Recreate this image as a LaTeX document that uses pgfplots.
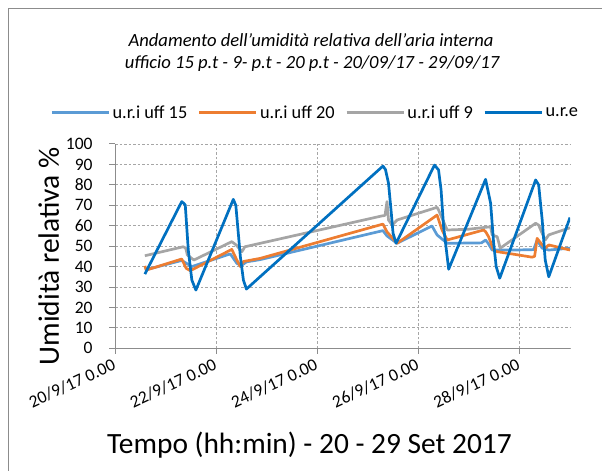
\documentclass[border=0pt]{standalone}
\usepackage{fontspec}
\setmainfont{Carlito}
\usepackage{pgfplots}
\pgfplotsset{compat=1.18}
\definecolor{c15}{HTML}{5B9BD5}
\definecolor{c20}{HTML}{ED7D31}
\definecolor{c9}{HTML}{A5A5A5}
\definecolor{cre}{HTML}{0070C0}
\definecolor{gridc}{HTML}{A6A6A6}
\definecolor{axc}{HTML}{8C8C8C}
\newcommand{\fs}{\fontsize{17.5bp}{21bp}\selectfont}
\newcommand{\fl}{\fontsize{18.3bp}{22bp}\selectfont}
\newcommand{\ft}{\fontsize{18.6bp}{22bp}\selectfont}
\newcommand{\fb}{\fontsize{29.5bp}{34bp}\selectfont}
\newcommand{\fx}{\fontsize{29.4bp}{34bp}\selectfont}
\begin{document}
\begin{tikzpicture}
\useasboundingbox (0bp,0bp) rectangle (602bp,471bp);
\draw[axc, line width=1bp] (8.8bp,-10bp) -- (8.8bp,462.5bp) -- (620bp,462.5bp);
\node[font=\ft\itshape, anchor=base] at (311bp,424.3bp) {Andamento dell'umidità relativa dell'aria interna};
\node[font=\ft\itshape, anchor=base] at (312bp,402.7bp) {ufficio 15 p.t - 9- p.t - 20 p.t - 20/09/17 - 29/09/17};
\begin{axis}[
  at={(115bp,122.7bp)}, anchor=south west,
  width=455bp, height=204.3bp, scale only axis,
  xmin=0, xmax=9, ymin=0, ymax=100,
  xtick={0,2,4,6,8},
  xticklabels={20/9/17 0.00, 22/9/17 0.00, 24/9/17 0.00, 26/9/17 0.00, 28/9/17 0.00},
  ytick={0,10,...,100},
  axis x line*=bottom, axis y line*=left,
  x axis line style={-, axc, line width=1bp},
  y axis line style={-, axc, line width=1bp},
  tick align=outside, major tick length=5.5bp,
  tick style={axc, line width=1bp},
  grid=major,
  major grid style={gridc, line width=0.8bp, dash pattern=on 2.5bp off 2bp},
  /pgf/number format/assume math mode=true,
  yticklabel style={font=\fs, anchor=east, inner sep=0pt, xshift=-16.7bp},
  xticklabel style={font=\fs, inner sep=0pt, xshift=-3.5bp, yshift=-4bp, rotate=25, anchor=north east},
  xlabel={Tempo (hh:min) - 20 - 29 Set 2017},
  xlabel style={font=\fx, at={(axis description cs:0.4275,-0.514)}, anchor=base},
  ylabel={Umidità relativa \%},
  ylabel style={font=\fb, at={(axis description cs:-0.1231,0.45)}, anchor=base, rotate=0},
  legend columns=4,
  legend style={at={(0.4407,1.153)}, anchor=center, draw=none, fill=none, font=\fl,
    nodes={inner sep=2.5bp}, /tikz/every even column/.append style={column sep=8bp}},
  legend image code/.code={\draw[#1] (0bp,0bp) -- (57bp,0bp);},
  every axis plot/.append style={line width=2.7bp, line join=round, mark=none},
]
\addplot[c15] coordinates {
(0.59,38.3) (1.32,43.0) (1.52,40.0) (2.28,46.2) (2.41,41.6) (2.50,40.5) (2.60,42.3) (2.87,43.4)
(5.30,57.6) (5.38,55.0) (5.58,51.4) (6.27,59.9) (6.37,55.5) (6.57,51.4) (7.25,51.6) (7.33,53.0)
(7.38,51.4) (7.46,48.1) (7.90,48.1) (8.28,48.3) (8.35,53.0) (8.45,49.0) (8.58,48.1) (9.0,49.0)
};
\addlegendentry{u.r.i uff 15}
\addplot[c20] coordinates {
(0.59,40.3) (0.62,38.3) (1.32,43.7) (1.41,39.1) (1.49,38.0) (2.31,48.4) (2.41,43.2) (2.48,40.0)
(2.54,42.5) (2.87,44.0) (5.30,60.8) (5.38,57.0) (5.58,51.4) (6.37,65.2) (6.47,57.9) (6.57,53.0)
(7.29,57.9) (7.33,57.1) (7.39,54.6) (7.49,48.1) (7.56,47.3) (7.90,46.0) (8.25,44.6) (8.30,45.0)
(8.35,53.8) (8.45,50.6) (8.51,49.0) (8.58,50.6) (9.0,48.1)
};
\addlegendentry{u.r.i uff 20}
\addplot[c9] coordinates {
(0.59,45.3) (1.35,49.7) (1.40,49.0) (1.43,45.7) (1.56,43.2) (2.31,52.2) (2.40,50.5) (2.51,47.3)
(2.57,49.7) (5.28,64.8) (5.34,65.0) (5.38,71.8) (5.41,62.8) (5.48,60.3) (5.58,62.8) (6.37,69.0)
(6.40,67.7) (6.57,57.9) (7.00,58.3) (7.43,59.5) (7.46,55.5) (7.56,54.6) (7.62,49.0) (8.32,61.2)
(8.38,60.3) (8.42,57.9) (8.51,53.0) (8.58,55.5) (9.0,59.0)
};
\addlegendentry{u.r.i uff 9}
\addplot[cre] coordinates {
(0.59,36.3) (1.32,71.8) (1.36,71.0) (1.39,70.1) (1.45,48.0) (1.52,33.4) (1.60,28.5)
(2.34,72.9) (2.39,70.0) (2.48,44.8) (2.54,33.4) (2.60,29.0)
(5.30,89.2) (5.35,87.5) (5.41,80.8) (5.46,67.7) (5.50,56.3) (5.56,51.4)
(6.32,89.7) (6.40,87.3) (6.45,77.5) (6.50,59.5) (6.60,38.7)
(7.33,82.7) (7.43,71.0) (7.49,51.4) (7.54,40.0) (7.61,34.3)
(8.32,82.4) (8.38,80.0) (8.45,62.8) (8.51,43.2) (8.58,35.0) (9.0,64.0)
};
\addlegendentry{u.r.e}
\end{axis}
\end{tikzpicture}
\end{document}
